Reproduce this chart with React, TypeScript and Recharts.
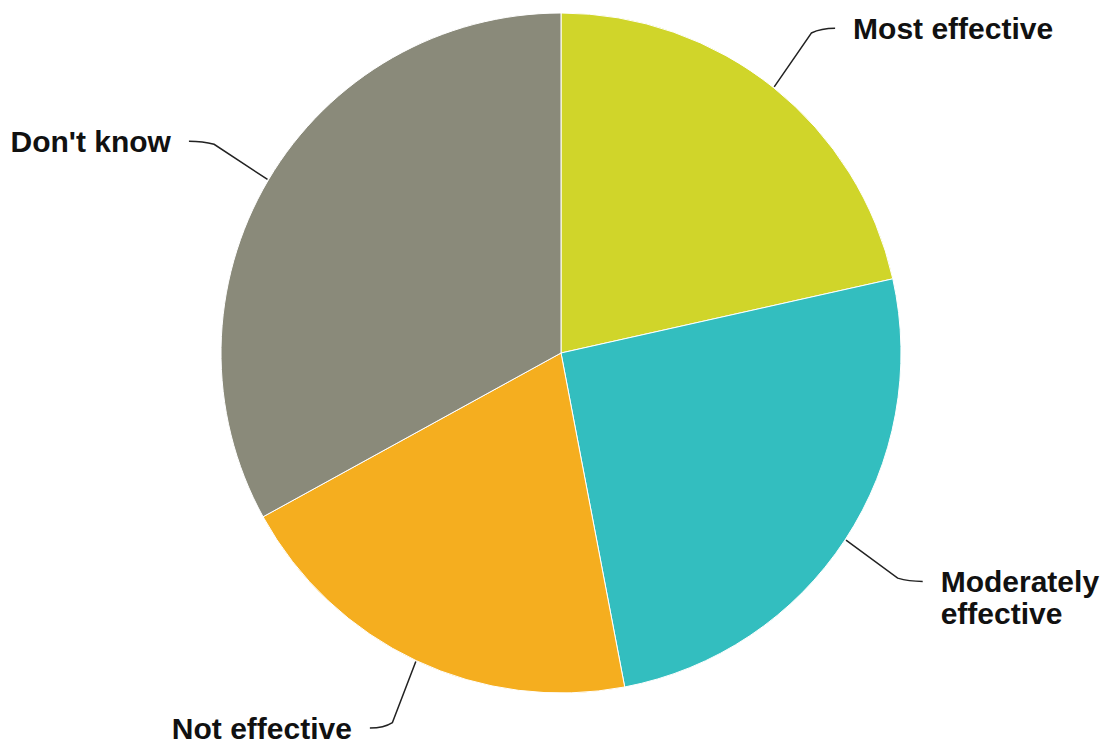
import React from "react";
import { PieChart, Pie, Cell } from "recharts";

const categories = ["Most effective", "Moderately effective", "Not effective", "Don't know"];
const shares = [21.5, 25.5, 20, 33];
const colors = ["#D0D52A", "#33BEBF", "#F5AE1F", "#8A8A7A"];

const data = categories.map((name, i) => ({ name, value: shares[i] }));

const RADIAN = Math.PI / 180;

// curved leader line + bold label, long names wrap onto two lines
const renderLabel = (props: any) => {
  const { cx, cy, midAngle, outerRadius, name } = props;
  const cos = Math.cos(-RADIAN * midAngle);
  const sin = Math.sin(-RADIAN * midAngle);
  const sx = cx + (outerRadius + 1) * cos;
  const sy = cy + (outerRadius + 1) * sin;
  const mx = cx + (outerRadius + 76) * cos;
  const my = Math.min(cy + (outerRadius + 76) * sin, 728);
  const dir = cos >= 0 ? 1 : -1;
  const ex = mx + dir * 14;
  const ey = my;
  const tx = ex + dir * 18;
  const lines: string[] =
    name.length > 16 ? [name.slice(0, name.indexOf(" ")), name.slice(name.indexOf(" ") + 1)] : [name];

  return (
    <g>
      <path
        d={`M${sx},${sy} L${mx - dir * 6 - 6 * cos},${my - 6 * sin} Q${mx},${my} ${ex},${ey}`}
        stroke="#222"
        strokeWidth={1.5}
        fill="none"
      />
      {lines.map((line, i) => (
        <text
          key={i}
          x={tx}
          y={ey + i * 32}
          textAnchor={dir > 0 ? "start" : "end"}
          dominantBaseline="central"
          fill="#111"
          fontSize={30}
          fontWeight="bold"
          fontFamily="'Liberation Sans', Arial, sans-serif"
        >
          {line}
        </text>
      ))}
    </g>
  );
};

const App = () => {
  return (
    <div style={{ position: "absolute", left: 0, top: 0, background: "#fff" }}>
      <PieChart width={1111} height={744} margin={{ top: 0, right: 0, bottom: 0, left: 0 }}>
        <Pie
          data={data}
          dataKey="value"
          nameKey="name"
          cx={561}
          cy={353}
          outerRadius={340}
          startAngle={90}
          endAngle={-270}
          stroke="#fff"
          strokeWidth={1}
          label={renderLabel}
          labelLine={false}
          isAnimationActive={false}
        >
          {data.map((entry, i) => (
            <Cell key={entry.name} fill={colors[i]} />
          ))}
        </Pie>
      </PieChart>
    </div>
  );
};

export default App;
